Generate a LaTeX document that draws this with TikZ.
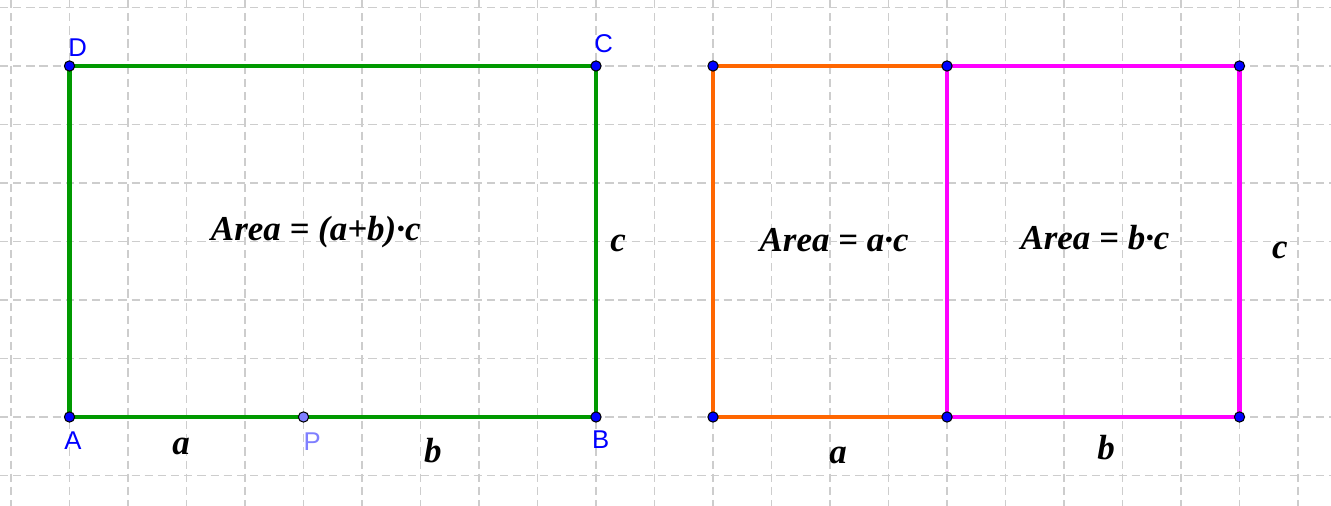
\documentclass[tikz,border=0pt]{standalone}
\usepackage{fontspec}
\setmainfont{Liberation Serif}
\newfontfamily\ptfont{Liberation Sans}
\usetikzlibrary{positioning}
\definecolor{Grid}{HTML}{CDCDCD}
\definecolor{Green}{HTML}{009900}
\definecolor{Orange}{HTML}{FF6600}
\definecolor{Magenta}{HTML}{FF00FF}
\definecolor{PtBlue}{HTML}{0000FF}
\definecolor{PtLight}{HTML}{7F7FFF}

\begin{document}
\begin{tikzpicture}[
    g/.style={draw=Grid,line width=0.6pt,dash pattern=on 4pt off 2.4pt},
    s/.style={line width=2.1pt,line cap=round,line join=round},
    pt/.style={circle,draw=black,fill=PtBlue,line width=0.5pt,inner sep=0pt,minimum size=5pt},
    lb/.style={font=\ptfont\fontsize{12.5}{14}\selectfont,text=PtBlue,inner sep=0pt},
    v/.style={font=\bfseries\itshape\fontsize{17}{20}\selectfont,inner sep=0pt}]
    \useasboundingbox (-1.188,-1.521) rectangle (21.564,7.128);
    \fill[white] (-1.188,-1.521) rectangle (21.564,7.128);
    \foreach \x in {-1,...,21} \draw[g] (\x,7.128) -- (\x,-1.521);
    \foreach \y in {-1,...,7} \draw[g] (-1.188,\y) -- (21.564,\y);
    % left rectangle
    \coordinate (A) at (0,0); \coordinate (B) at (9,0);
    \coordinate (C) at (9,6); \coordinate (D) at (0,6);
    \coordinate (P) at (4,0);
    \draw[s,Green] (A)--(B)--(C)--(D)--cycle;
    % right rectangles
    \coordinate (A1) at (11,0); \coordinate (M1) at (15,0); \coordinate (B1) at (20,0);
    \coordinate (D1) at (11,6); \coordinate (N1) at (15,6); \coordinate (C1) at (20,6);
    \draw[s,Orange] (M1)--(A1)--(D1)--(N1);
    \draw[s,Magenta] (M1)--(B1)--(C1)--(N1)--cycle;
    % points
    \foreach \p in {A,B,C,D,A1,M1,B1,C1,D1,N1} \node[pt] (d\p) at (\p) {};
    \node[pt,fill=PtLight] (dP) at (P) {};
    \node[lb] (lD) at (0.14,6.31) {D};
    \node[lb] (lC) at (9.13,6.38) {C};
    \node[lb] (lA) at (0.06,-0.41) {A};
    \node[lb] (lB) at (9.08,-0.39) {B};
    \node[lb,text=PtLight] (lP) at (4.15,-0.43) {P};
    % values
    \node[v] (area) at (4.21,3.16) {Area = (a+b)·c};
    \node[v] (c) at (9.38,2.97) {c};
    \node[v] (a) at (1.91,-0.51) {a};
    \node[v] (b) at (6.21,-0.58) {b};
    \node[v] (areaA) at (13.07,3.03) {Area = a·c};
    \node[v] (areaB) at (17.53,3.06) {Area = b·c};
    \node[v] (c1) at (20.69,2.85) {c};
    \node[v] (a1) at (13.14,-0.65) {a};
    \node[v] (b1) at (17.72,-0.53) {b};
\end{tikzpicture}
\end{document}
